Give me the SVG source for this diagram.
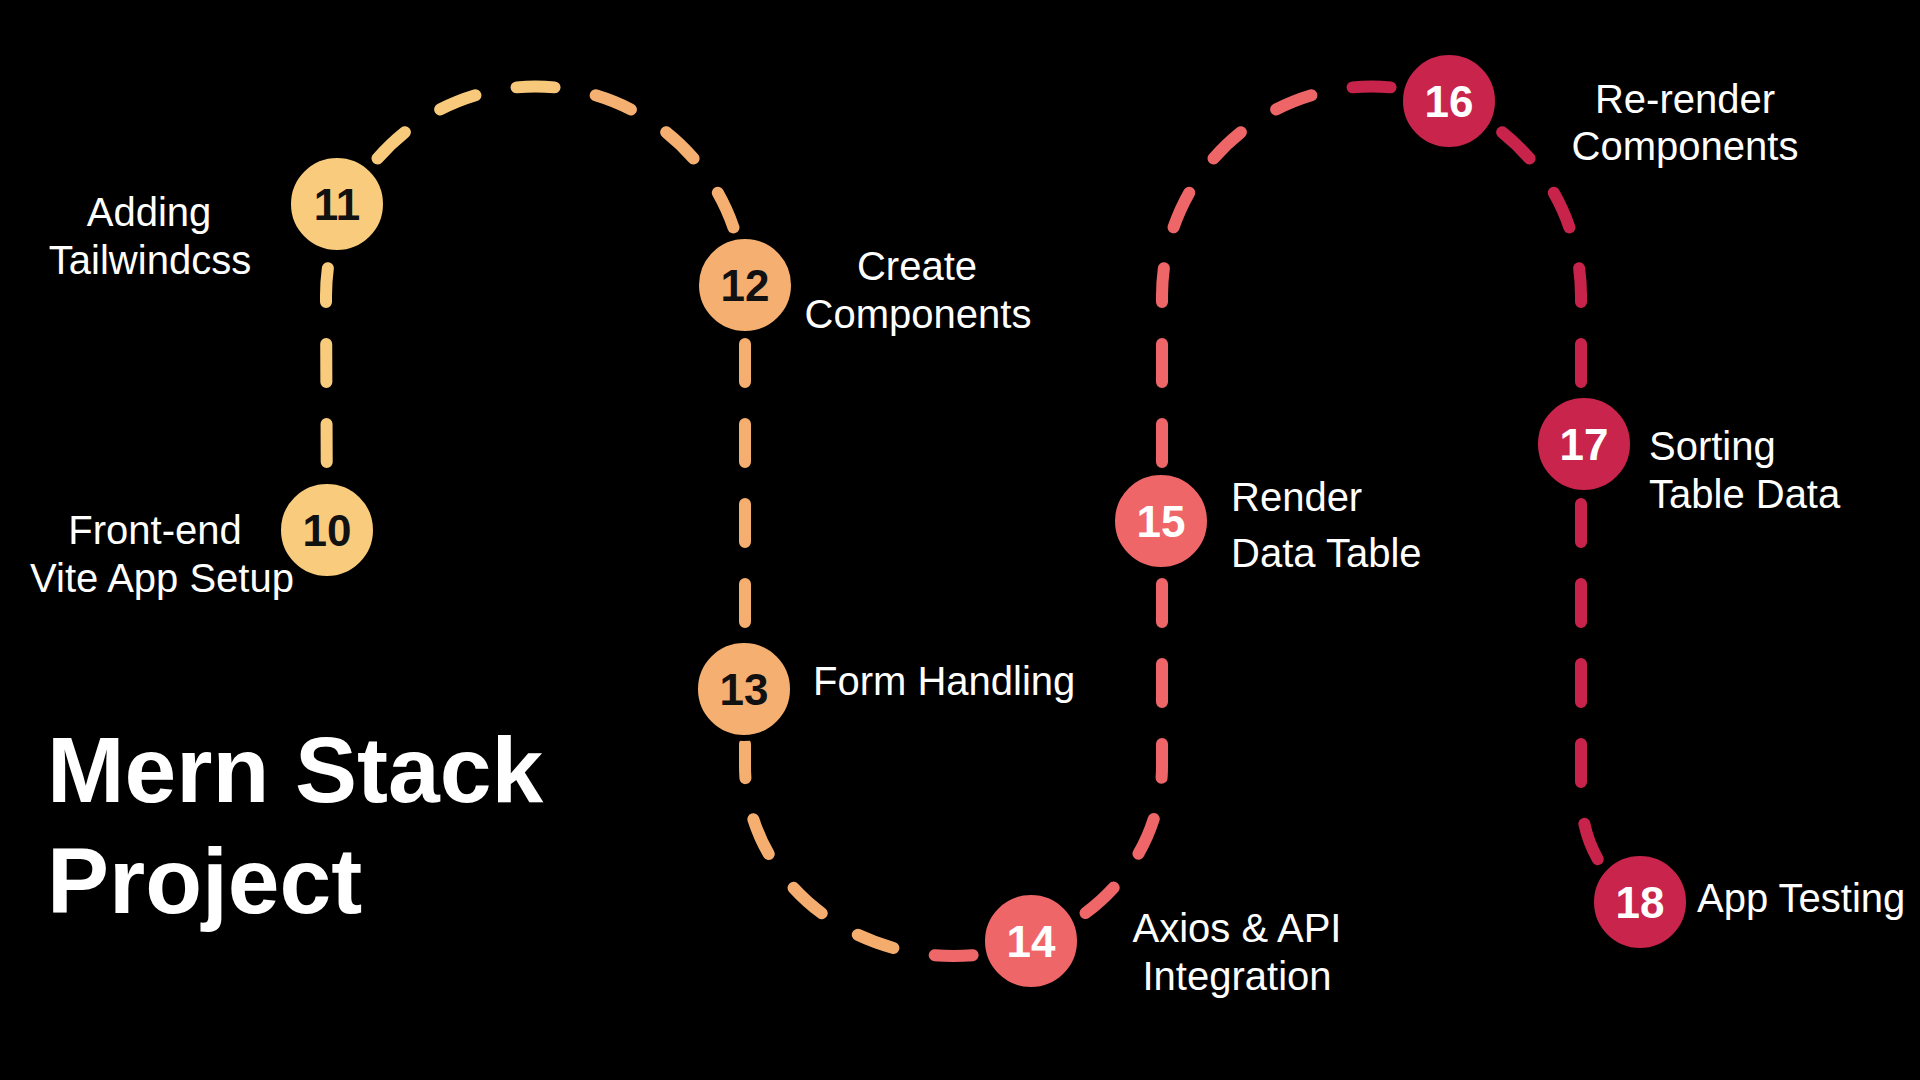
<svg xmlns="http://www.w3.org/2000/svg" width="1920" height="1080" viewBox="0 0 1920 1080">
  <defs>
    <linearGradient id="pathGrad" gradientUnits="userSpaceOnUse" x1="326" y1="0" x2="1640" y2="0">
      <stop offset="0" stop-color="#F8CC7C"/>
      <stop offset="0.17" stop-color="#F8C87A"/>
      <stop offset="0.2" stop-color="#F5B172"/>
      <stop offset="0.437" stop-color="#F4AC6D"/>
      <stop offset="0.45" stop-color="#EF6869"/>
      <stop offset="0.755" stop-color="#EE6568"/>
      <stop offset="0.772" stop-color="#C8244B"/>
      <stop offset="1" stop-color="#C8244B"/>
    </linearGradient>
  </defs>
  <style>
    .bg { fill: #000000; }
    .route { fill: none; stroke: url(#pathGrad); stroke-width: 12; stroke-linecap: round; stroke-dasharray: 38 42; }
    .col { stroke-dashoffset: 32; }
    .arc { stroke-dashoffset: 10; }
    .dip { stroke-dashoffset: 25.8; }
    .tail { stroke-dashoffset: 46; }
    .dot { stroke: #000000; stroke-width: 6; }
    .yellow { fill: #F8CB7D; }
    .orange { fill: #F5AF71; }
    .coral { fill: #EF6668; }
    .crimson { fill: #C8244C; }
    .num { font-family: "Liberation Sans", Arial, sans-serif; font-weight: bold; font-size: 44px; text-anchor: middle; }
    .dark { fill: #111111; }
    .light { fill: #FFFFFF; }
    .label { font-family: "Liberation Sans", Arial, sans-serif; font-size: 40px; fill: #FFFFFF; }
    .mid { text-anchor: middle; }
    .title { font-family: "Liberation Sans", Arial, sans-serif; font-weight: bold; font-size: 93px; fill: #FFFFFF; }
  </style>
  <rect class="bg" x="0" y="0" width="1920" height="1080"/>

  <g id="connectors">
    <path class="route col" d="M326,296 L327,530"/>
    <path class="route arc" d="M326,296 A209.5,209.5 0 0 1 745,296"/>
    <path class="route col" d="M745,296 L745,766"/>
    <path class="route dip" d="M745,766 A208.5,190 0 0 0 1162,766"/>
    <path class="route col" d="M1162,296 L1162,766"/>
    <path class="route arc" d="M1162,296 A209.5,209.5 0 0 1 1581,296"/>
    <path class="route col" d="M1581,296 L1581,790"/>
    <path class="route tail" d="M1581,790 C1581,840 1600,876 1640,902"/>
  </g>

  <g id="node-10">
    <circle class="dot yellow" cx="327" cy="530" r="49"/>
    <text class="num dark" x="327" y="546">10</text>
    <text class="label mid" x="155" y="544">Front-end</text>
    <text class="label mid" x="162" y="592">Vite App Setup</text>
  </g>
  <g id="node-11">
    <circle class="dot yellow" cx="337" cy="204" r="49"/>
    <text class="num dark" x="337" y="220">11</text>
    <text class="label mid" x="149" y="226">Adding</text>
    <text class="label mid" x="150" y="274">Tailwindcss</text>
  </g>
  <g id="node-12">
    <circle class="dot orange" cx="745" cy="285" r="49"/>
    <text class="num dark" x="745" y="301">12</text>
    <text class="label mid" x="917" y="280">Create</text>
    <text class="label mid" x="918" y="328">Components</text>
  </g>
  <g id="node-13">
    <circle class="dot orange" cx="744" cy="689" r="49"/>
    <text class="num dark" x="744" y="705">13</text>
    <text class="label" x="813" y="695">Form Handling</text>
  </g>
  <g id="node-14">
    <circle class="dot coral" cx="1031" cy="941" r="49"/>
    <text class="num light" x="1031" y="957">14</text>
    <text class="label mid" x="1237" y="942">Axios &amp; API</text>
    <text class="label mid" x="1237" y="990">Integration</text>
  </g>
  <g id="node-15">
    <circle class="dot coral" cx="1161" cy="521" r="49"/>
    <text class="num light" x="1161" y="537">15</text>
    <text class="label" x="1231" y="511">Render</text>
    <text class="label" x="1231" y="567">Data Table</text>
  </g>
  <g id="node-16">
    <circle class="dot crimson" cx="1449" cy="101" r="49"/>
    <text class="num light" x="1449" y="117">16</text>
    <text class="label mid" x="1685" y="113">Re-render</text>
    <text class="label mid" x="1685" y="160">Components</text>
  </g>
  <g id="node-17">
    <circle class="dot crimson" cx="1584" cy="444" r="49"/>
    <text class="num light" x="1584" y="460">17</text>
    <text class="label" x="1649" y="460">Sorting</text>
    <text class="label" x="1649" y="508">Table Data</text>
  </g>
  <g id="node-18">
    <circle class="dot crimson" cx="1640" cy="902" r="49"/>
    <text class="num light" x="1640" y="918">18</text>
    <text class="label" x="1697" y="912">App Testing</text>
  </g>

  <g id="title">
    <text class="title" x="47" y="802">Mern Stack</text>
    <text class="title" x="47" y="913">Project</text>
  </g>
</svg>
